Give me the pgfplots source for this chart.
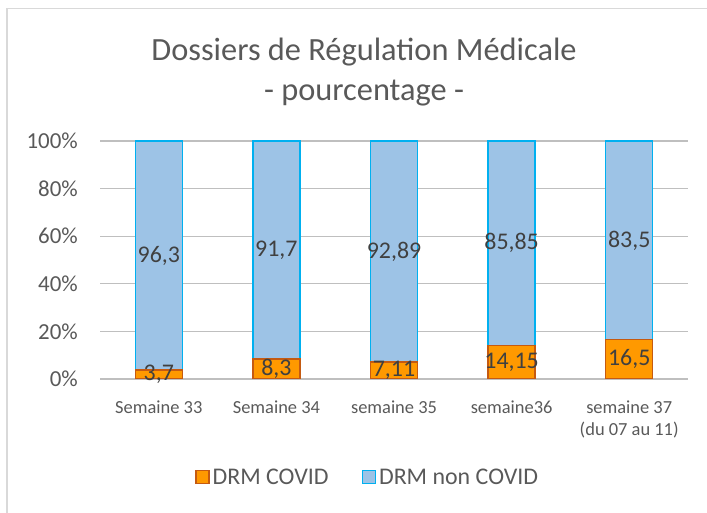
\documentclass[border=0pt]{standalone}
\usepackage{fontspec}
\setmainfont{Carlito}
\usepackage{pgfplots}
\pgfplotsset{compat=1.18}

\definecolor{txt}{HTML}{595959}
\definecolor{lbl}{HTML}{404040}
\definecolor{grid}{HTML}{D9D9D9}
\definecolor{covfill}{HTML}{FF9900}
\definecolor{covdraw}{HTML}{C55A11}
\definecolor{nonfill}{HTML}{9DC3E6}
\definecolor{nondraw}{HTML}{00B0F0}

\pgfplotsset{/pgf/number format/assume math mode=true}

\begin{document}
\begin{tikzpicture}
\useasboundingbox (0bp,0bp) rectangle (707bp,513bp);
\draw[grid,line width=1.5bp] (7bp,0bp) -- (7bp,504.5bp) -- (707bp,504.5bp);
\begin{axis}[
    at={(100bp,134bp)}, anchor=south west,
    scale only axis,
    width=588bp, height=238bp,
    ybar stacked,
    bar width=47bp,
    xmin=-0.5, xmax=4.5,
    ymin=0, ymax=100,
    xtick=data,
    xticklabels={Semaine 33, Semaine 34, semaine 35, semaine36, {semaine 37\\(du 07 au 11)}},
    ytick={0,20,...,100},
    yticklabel={\pgfmathprintnumber{\tick}\%},
    axis line style={draw=none},
    major tick length=0pt,
    ymajorgrids,
    grid style={grid, line width=1.3bp},
    yticklabel style={font=\fontsize{23}{27}\selectfont, text=txt, anchor=east, inner sep=0pt, xshift=-22bp},
    xticklabel style={font=\fontsize{18.5}{21.5}\selectfont, text=txt, align=center, anchor=north, inner sep=0pt, yshift=-22bp},
    /pgf/number format/use comma,
    nodes near coords,
    % labels sit in the middle of each segment
    every node near coord/.append style={font=\fontsize{24}{28}\selectfont, text=lbl, anchor=center},
    title={Dossiers de Régulation Médicale\\- pourcentage -},
    title style={at={(0.449,1)}, anchor=center, yshift=63bp, align=center, font=\fontsize{32.5}{40}\selectfont, text=txt},
    legend columns=2,
    legend style={at={(0.456,-0.412)}, anchor=center, draw=none, fill=none, font=\fontsize{24}{28}\selectfont, text=txt,
        /tikz/every even column/.append style={column sep=30bp},
        nodes={inner sep=3bp}},
    legend image code/.code={\draw[#1, line width=1.5bp] (0bp,-6.5bp) rectangle (13bp,6.5bp);},
]
\addplot[fill=covfill, draw=covdraw, line width=1.5bp] coordinates {(0,3.7) (1,8.3) (2,7.11) (3,14.15) (4,16.5)};
\addplot[fill=nonfill, draw=nondraw, line width=1.5bp] coordinates {(0,96.3) (1,91.7) (2,92.89) (3,85.85) (4,83.5)};
\legend{DRM COVID, DRM non COVID}
\end{axis}
\end{tikzpicture}
\end{document}
